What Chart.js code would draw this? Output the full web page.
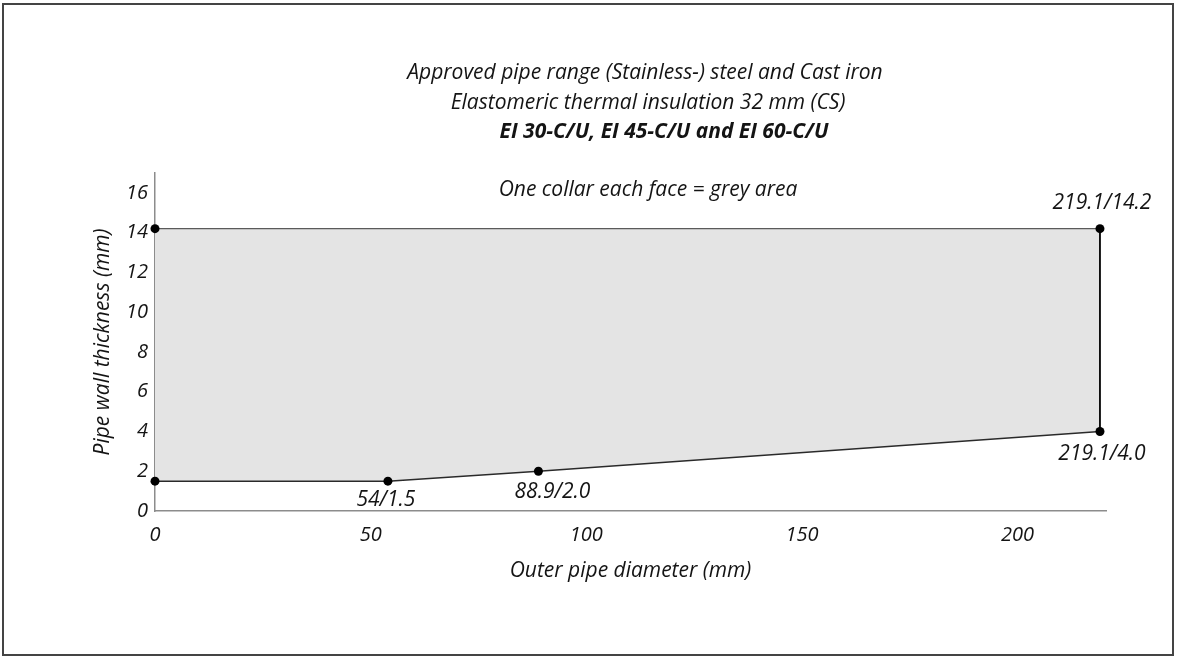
<!DOCTYPE html>
<html>
<head>
<meta charset="utf-8">
<script src="https://cdn.jsdelivr.net/npm/chart.js@4"></script>
<style>
  html, body { margin: 0; padding: 0; background: #fff; }
  canvas { display: block; }
</style>
</head>
<body>
<canvas id="chart" width="1178" height="657"></canvas>
<script>
// upper limit of the approved range (outer diameter mm / wall thickness mm)
const upperDiameters = [0, 219.1];
const upperThickness = [14.2, 14.2];
// lower limit
const lowerDiameters = [0, 54, 88.9, 219.1];
const lowerThickness = [1.5, 1.5, 2.0, 4.0];
const upperLabels = ["", "219.1/14.2"];
const lowerLabels = ["", "54/1.5", "88.9/2.0", "219.1/4.0"];
const xTicks = [0, 50, 100, 150, 200];
const yTicks = [0, 2, 4, 6, 8, 10, 12, 14, 16];

const titleLines = [
  "Approved pipe range (Stainless-) steel and Cast iron",
  "Elastomeric thermal insulation 32 mm (CS)",
  "EI 30-C/U, EI 45-C/U and EI 60-C/U",
];
const noteText = "One collar each face = grey area";

const FONT = "'Open Sans', 'DejaVu Sans', sans-serif";
const INK = "#141414";

// label offsets from their point (px)
const upperOffsets = [null, [2, -26]];
const lowerOffsets = [null, [-2, 19], [14, 21], [2, 23]];

const overlay = {
  id: "overlay",
  beforeDraw(chart) {
    const ctx = chart.ctx;
    ctx.save();
    ctx.fillStyle = "#fff";
    ctx.fillRect(0, 0, chart.width, chart.height);
    ctx.restore();
  },
  afterDraw(chart) {
    const ctx = chart.ctx;
    ctx.save();
    // outer frame
    ctx.strokeStyle = "#444";
    ctx.lineWidth = 2;
    ctx.strokeRect(3, 4, 1170, 651);

    ctx.fillStyle = INK;
    ctx.textBaseline = "middle";
    ctx.textAlign = "center";
    ctx.font = "italic 21px " + FONT;
    ctx.fillText(titleLines[0], 645, 73);
    ctx.fillText(titleLines[1], 648, 103);
    ctx.font = "italic bold 21px " + FONT;
    ctx.fillText(titleLines[2], 664, 132);
    ctx.font = "italic 21px " + FONT;
    ctx.fillText(noteText, 648, 190);

    // point labels
    const put = (meta, labels, offsets) => {
      meta.data.forEach((pt, i) => {
        const off = offsets[i];
        if (!off || !labels[i]) return;
        ctx.fillText(labels[i], pt.x + off[0], pt.y + off[1]);
      });
    };
    put(chart.getDatasetMeta(0), upperLabels, upperOffsets);
    put(chart.getDatasetMeta(1), lowerLabels, lowerOffsets);
    ctx.restore();
  }
};

const pointStyle = {
  pointRadius: 4.5,
  pointBackgroundColor: "#000",
  pointBorderColor: "#000",
  pointBorderWidth: 0,
  clip: false,
  tension: 0,
  showLine: true,
};

const ctx = document.getElementById("chart");
new Chart(ctx, {
  type: "scatter",
  data: {
    datasets: [
      {
        data: upperDiameters.map((d, i) => ({ x: d, y: upperThickness[i] })),
        fill: "+1",
        backgroundColor: "#e4e4e4",
        borderColor: "#5a5a5a",
        borderWidth: 1.4,
        ...pointStyle,
      },
      {
        data: lowerDiameters.map((d, i) => ({ x: d, y: lowerThickness[i] })),
        fill: false,
        borderColor: "#2a2a2a",
        borderWidth: 1.4,
        ...pointStyle,
      },
      {
        // right edge of the range
        data: [
          { x: upperDiameters[1], y: lowerThickness[3] },
          { x: upperDiameters[1], y: upperThickness[1] },
        ],
        fill: false,
        borderColor: "#000",
        borderWidth: 1.8,
        ...pointStyle,
        pointRadius: 0,
      },
    ],
  },
  options: {
    responsive: false,
    animation: false,
    layout: { padding: { left: 0, top: 173, right: 72, bottom: 0 } },
    plugins: {
      legend: { display: false },
      tooltip: { enabled: false },
      filler: { drawTime: "beforeDatasetsDraw" },
    },
    scales: {
      x: {
        type: "linear",
        min: 0,
        max: 220.5,
        afterFit: s => { s.height = 146; },
        afterBuildTicks: s => { s.ticks = xTicks.map(v => ({ value: v })); },
        grid: { display: false, drawTicks: false },
        border: { display: true, color: "#8c8c8c", width: 1.5 },
        ticks: {
          padding: 12,
          color: INK,
          maxRotation: 0,
          font: { family: FONT, size: 20, style: "italic" },
        },
        title: {
          display: true,
          text: "Outer pipe diameter (mm)",
          color: INK,
          font: { family: FONT, size: 21, style: "italic" },
          padding: { top: 0, bottom: 73 },
        },
      },
      y: {
        type: "linear",
        min: 0,
        max: 17,
        afterFit: s => { s.width = 155; },
        afterBuildTicks: s => { s.ticks = yTicks.map(v => ({ value: v })); },
        grid: { display: false, drawTicks: false },
        border: { display: true, color: "#8c8c8c", width: 1.5 },
        ticks: {
          padding: 7,
          color: INK,
          font: { family: FONT, size: 20, style: "italic" },
        },
        title: {
          display: true,
          text: "Pipe wall thickness (mm)",
          color: INK,
          font: { family: FONT, size: 21, style: "italic" },
          padding: { top: 90, bottom: 0 },
        },
      },
    },
  },
  plugins: [overlay],
});
</script>
</body>
</html>
